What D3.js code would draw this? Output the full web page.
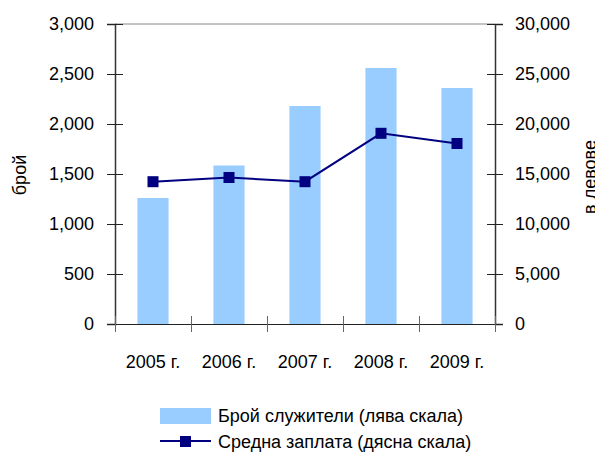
<!DOCTYPE html>
<html>
<head>
<meta charset="utf-8">
<script src="https://cdn.jsdelivr.net/npm/d3@7"></script>
<style>
  body { margin: 0; background: #fff; }
  text { font-family: "Liberation Sans", Arial, sans-serif; fill: #000; }
</style>
</head>
<body>
<div id="chart"></div>
<script>
// chart data
var years = ["2005 г.", "2006 г.", "2007 г.", "2008 г.", "2009 г."];
var employees = [1260, 1585, 2180, 2560, 2360];
var salary = [14230, 14650, 14230, 19070, 18050];
var leftTicks = [0, 500, 1000, 1500, 2000, 2500, 3000];
var rightTicks = [0, 5000, 10000, 15000, 20000, 25000, 30000];
var barName = "Брой служители (лява скала)";
var lineName = "Средна заплата (дясна скала)";

var width = 595, height = 454;
// plot box (window.top is reserved, so use other names)
var plotL = 115, plotR = 495, plotT = 24, plotB = 324;

var svg = d3.select("#chart").append("svg")
    .attr("width", width)
    .attr("height", height);

var x = d3.scaleBand().domain(years).range([plotL, plotR]).paddingInner(0.59).paddingOuter(0.295);
var yL = d3.scaleLinear().domain([0, 3000]).range([plotB, plotT]);
var yR = d3.scaleLinear().domain([0, 30000]).range([plotB, plotT]);
var fmt = d3.format(",");

// top border
svg.append("line")
    .attr("x1", plotL).attr("x2", plotR)
    .attr("y1", plotT).attr("y2", plotT)
    .attr("stroke", "#888").attr("stroke-width", 1);

// bars
svg.selectAll("rect.bar")
    .data(employees)
    .enter().append("rect")
    .attr("class", "bar")
    .attr("x", function(d, i) { return x(years[i]); })
    .attr("width", x.bandwidth())
    .attr("y", function(d) { return yL(d); })
    .attr("height", function(d) { return plotB - yL(d); })
    .attr("fill", "#99ccff");

// left axis
var axL = svg.append("g")
    .attr("transform", "translate(" + plotL + ",0)")
    .call(d3.axisLeft(yL).tickValues(leftTicks).tickFormat(fmt).tickSize(8).tickPadding(13));
axL.selectAll(".tick line").attr("x2", 8).attr("x1", -8);

// right axis
var axR = svg.append("g")
    .attr("transform", "translate(" + plotR + ",0)")
    .call(d3.axisRight(yR).tickValues(rightTicks).tickFormat(fmt).tickSize(8).tickPadding(12));
axR.selectAll(".tick line").attr("x1", -8).attr("x2", 8);

// bottom axis, ticks between categories
var xEdge = d3.scaleLinear().domain([0, years.length]).range([plotL, plotR]);
svg.append("g")
    .attr("transform", "translate(0," + plotB + ")")
    .call(d3.axisBottom(xEdge).ticks(years.length).tickFormat("").tickSize(8))
    .call(function(g) {
      g.selectAll(".tick line").attr("y1", -8).attr("y2", 8).attr("stroke", "#666");
      g.select(".domain").attr("stroke", "#222");
    });

svg.selectAll("text.xlab")
    .data(years)
    .enter().append("text")
    .attr("class", "xlab")
    .attr("x", function(d) { return x(d) + x.bandwidth() / 2; })
    .attr("y", 368)
    .attr("text-anchor", "middle")
    .style("font-size", "18px")
    .text(function(d) { return d; });

[axL, axR].forEach(function(g) {
  g.select(".domain").attr("stroke", "#333").attr("stroke-width", 1.5);
  g.selectAll(".tick line").attr("stroke", "#222");
  g.selectAll(".tick text").style("font-size", "18px").attr("font-family", null);
});

// line series
var line = d3.line()
    .x(function(d, i) { return x(years[i]) + x.bandwidth() / 2; })
    .y(function(d) { return yR(d); });

svg.append("path")
    .datum(salary)
    .attr("d", line)
    .attr("fill", "none")
    .attr("stroke", "#000080")
    .attr("stroke-width", 2);

svg.selectAll("rect.mark")
    .data(salary)
    .enter().append("rect")
    .attr("class", "mark")
    .attr("x", function(d, i) { return x(years[i]) + x.bandwidth() / 2 - 5.5; })
    .attr("y", function(d) { return yR(d) - 5.5; })
    .attr("width", 11).attr("height", 11)
    .attr("fill", "#000080");

// axis titles
svg.append("text")
    .attr("transform", "translate(26,175) rotate(-90)")
    .attr("text-anchor", "middle")
    .style("font-size", "18px")
    .text("брой");

svg.append("text")
    .attr("transform", "translate(596,177) rotate(-90)")
    .attr("text-anchor", "middle")
    .style("font-size", "18px")
    .text("в левове");

// legend
svg.append("rect")
    .attr("x", 160).attr("y", 408)
    .attr("width", 51).attr("height", 16)
    .attr("fill", "#99ccff");
svg.append("text")
    .attr("x", 218).attr("y", 422)
    .style("font-size", "18px")
    .text(barName);

svg.append("line")
    .attr("x1", 160).attr("x2", 211)
    .attr("y1", 441).attr("y2", 441)
    .attr("stroke", "#000080").attr("stroke-width", 2);
svg.append("rect")
    .attr("x", 180).attr("y", 436)
    .attr("width", 11).attr("height", 11)
    .attr("fill", "#000080");
svg.append("text")
    .attr("x", 218).attr("y", 448)
    .style("font-size", "18px")
    .text(lineName);
</script>
</body>
</html>
